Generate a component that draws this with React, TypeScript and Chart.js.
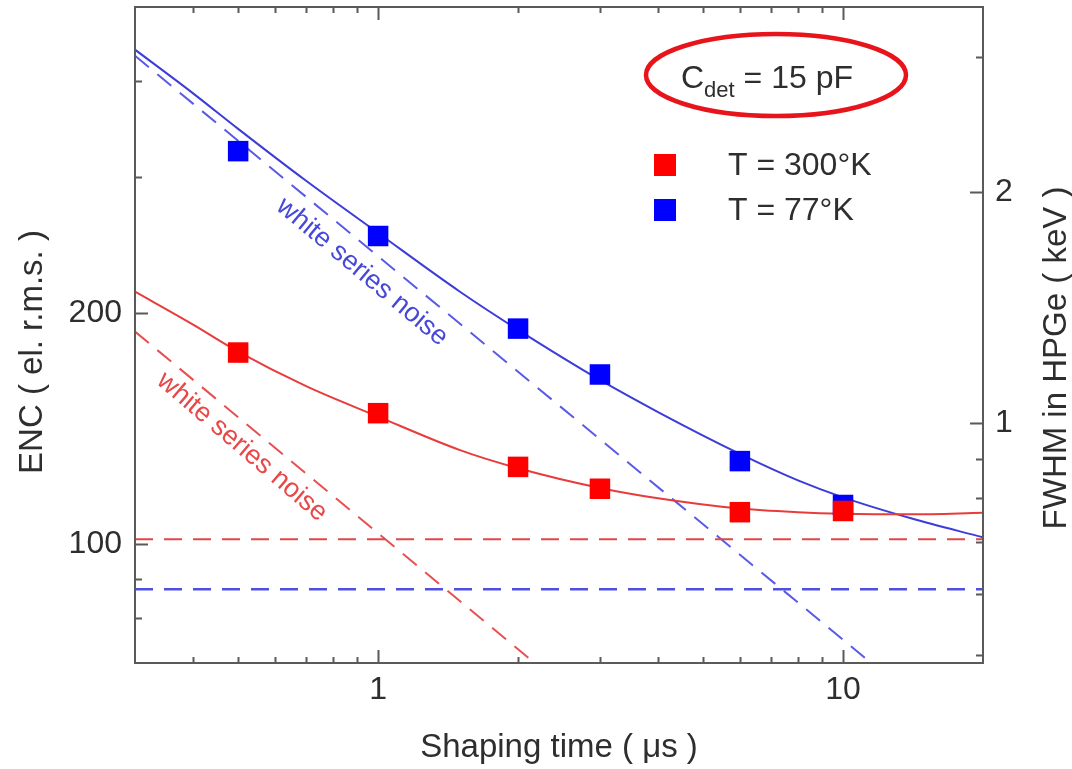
import React, { useEffect, useRef } from 'react';
import { Chart, registerables } from 'chart.js';

Chart.register(...registerables);

// Measured points
const shapingTimes = [0.5, 1, 2, 3, 6, 10];
const enc300K = [177.5, 148, 126, 118, 110, 110.4];
const enc77K = [324.6, 251.7, 190.7, 166.2, 128.2, 112.4];

// Fit curves
const fitTimes = [0.3, 0.4, 0.5, 0.7, 1, 1.5, 2, 3, 4, 6, 8, 10, 14, 20];
const fit300K = [213, 193, 178, 160.5, 146.5, 132.5, 125.5, 118.3, 114.7, 111.2, 110, 109.5, 109.3, 109.8];
const fit77K = [440, 386, 347, 297, 254, 213, 190, 163.5, 148.5, 131, 121, 115, 108, 102];

// Noise components (dashed)
const flat300KTimes = [0.3, 20];
const flat300K = [101.4, 101.4];
const flat77KTimes = [0.3, 20];
const flat77K = [87.3, 87.3];
const white300KTimes = [0.3, 2.17];
const white300K = [189, 70];
const white77KTimes = [0.3, 11.5];
const white77K = [432, 70];

// Axes
const xMin = 0.3;
const xMax = 20;
const yMin = 70;
const yMax = 500;
const encPerKeV = 143.5;
const xLabelTicks = [1, 10];
const xMinorTicks = [0.4, 0.5, 0.6, 0.7, 0.8, 0.9, 2, 3, 4, 5, 6, 7, 8, 9];
const yLabelTicks = [100, 200];
const yMinorTicks = [80, 90, 300, 400];
const y2LabelTicks = [1, 2];
const y2MinorTicks = [0.5, 0.6, 0.7, 0.8, 0.9, 3];

const seriesLabels = ['T = 300°K', 'T = 77°K'];
const RED = '#ff0000';
const BLUE = '#0000ff';
const FONT = '"Liberation Sans", Arial, Helvetica, sans-serif';
const TEXT = '#2e2e2e';
const FRAME = '#5a5a5a';

const pts = (xs: number[], ys: number[]) => xs.map((x, i) => ({ x, y: ys[i] }));

const decorPlugin = {
  id: 'decor',
  afterDraw(chart: any) {
    const { ctx, chartArea: a, scales } = chart;
    const sx = scales.x, sy = scales.y, sy2 = scales.y2;
    ctx.save();
    // frame
    ctx.strokeStyle = FRAME;
    ctx.lineWidth = 2;
    ctx.strokeRect(a.left, a.top, a.right - a.left, a.bottom - a.top);
    // ticks
    const MAJ = 13, MIN = 6;
    ctx.beginPath();
    const xt = (v: number, len: number) => {
      const p = Math.round(sx.getPixelForValue(v)) + 0.5;
      ctx.moveTo(p, a.bottom); ctx.lineTo(p, a.bottom - len);
      ctx.moveTo(p, a.top); ctx.lineTo(p, a.top + len);
    };
    xLabelTicks.forEach((v) => xt(v, MAJ));
    xMinorTicks.forEach((v) => xt(v, MIN));
    const yt = (v: number, len: number) => {
      const p = Math.round(sy.getPixelForValue(v)) + 0.5;
      ctx.moveTo(a.left, p); ctx.lineTo(a.left + len, p);
    };
    yLabelTicks.forEach((v) => yt(v, MAJ));
    yMinorTicks.forEach((v) => yt(v, MIN + 1));
    const y2t = (v: number, len: number) => {
      const p = Math.round(sy2.getPixelForValue(v)) + 0.5;
      ctx.moveTo(a.right, p); ctx.lineTo(a.right - len, p);
    };
    y2LabelTicks.forEach((v) => y2t(v, MAJ));
    y2MinorTicks.forEach((v) => y2t(v, MIN + 1));
    ctx.stroke();

    // axis titles
    ctx.fillStyle = TEXT;
    ctx.font = `33px ${FONT}`;
    ctx.textAlign = 'center';
    ctx.textBaseline = 'alphabetic';
    ctx.fillText('Shaping time ( μs )', (a.left + a.right) / 2, 757);
    ctx.save();
    ctx.translate(42, 352);
    ctx.rotate(-Math.PI / 2);
    ctx.fillText('ENC ( el. r.m.s. )', 0, 0);
    ctx.restore();
    ctx.save();
    ctx.translate(1066, 358);
    ctx.rotate(-Math.PI / 2);
    ctx.fillText('FWHM in HPGe ( keV )', 0, 0);
    ctx.restore();

    // C_det annotation with ellipse
    ctx.textAlign = 'left';
    ctx.font = `32px ${FONT}`;
    ctx.fillText('C', 681, 88);
    const cw = ctx.measureText('C').width;
    ctx.font = `22px ${FONT}`;
    ctx.fillText('det', 681 + cw, 97);
    const dw = ctx.measureText('det').width;
    ctx.font = `32px ${FONT}`;
    ctx.fillText(' = 15 pF', 681 + cw + dw, 88);
    ctx.beginPath();
    ctx.ellipse(776, 75, 130, 41, 0, 0, Math.PI * 2);
    ctx.strokeStyle = '#e8141c';
    ctx.lineWidth = 4.5;
    ctx.stroke();

    // legend
    const legendColors = [RED, BLUE];
    const legendY = [165, 210];
    ctx.font = `32px ${FONT}`;
    ctx.textBaseline = 'middle';
    seriesLabels.forEach((lab, i) => {
      ctx.fillStyle = legendColors[i];
      ctx.fillRect(654, legendY[i] - 11, 22, 22);
      ctx.fillStyle = TEXT;
      ctx.fillText(lab, 728, legendY[i] + 1);
    });

    // white series noise labels
    ctx.font = `27px ${FONT}`;
    ctx.textAlign = 'center';
    ctx.textBaseline = 'middle';
    const lbl = (x: number, y: number, ang: number, col: string) => {
      ctx.save();
      ctx.translate(x, y);
      ctx.rotate((ang * Math.PI) / 180);
      ctx.fillStyle = col;
      ctx.fillText('white series noise', 0, 0);
      ctx.restore();
    };
    lbl(362, 272, 40, '#4848d8');
    lbl(242, 447, 40.5, '#e84848');
    ctx.restore();
  },
};

export default function App() {
  const ref = useRef<HTMLCanvasElement>(null);
  useEffect(() => {
    const canvas = ref.current!;
    const tickFont = { family: FONT, size: 32 };
    const chart = new Chart(canvas, {
      type: 'line',
      data: {
        datasets: [
          {
            label: seriesLabels[0],
            data: pts(shapingTimes, enc300K),
            showLine: false,
            pointStyle: 'rect',
            pointRadius: 14.5,
            pointBackgroundColor: RED,
            pointBorderWidth: 0,
            borderColor: RED,
            backgroundColor: RED,
          },
          {
            label: seriesLabels[1],
            data: pts(shapingTimes, enc77K),
            showLine: false,
            pointStyle: 'rect',
            pointRadius: 14.5,
            pointBackgroundColor: BLUE,
            pointBorderWidth: 0,
            borderColor: BLUE,
            backgroundColor: BLUE,
          },
          {
            label: 'fit 300K',
            data: pts(fitTimes, fit300K),
            borderColor: '#e83c3c',
            borderWidth: 2,
            pointRadius: 0,
            cubicInterpolationMode: 'monotone',
          },
          {
            label: 'fit 77K',
            data: pts(fitTimes, fit77K),
            borderColor: '#3c3cd8',
            borderWidth: 2,
            pointRadius: 0,
            cubicInterpolationMode: 'monotone',
          },
          {
            label: 'flat 300K',
            data: pts(flat300KTimes, flat300K),
            borderColor: '#e04848',
            borderWidth: 2,
            borderDash: [18, 11],
            pointRadius: 0,
          },
          {
            label: 'flat 77K',
            data: pts(flat77KTimes, flat77K),
            borderColor: '#5050e0',
            borderWidth: 2.5,
            borderDash: [18, 11],
            pointRadius: 0,
          },
          {
            label: 'white 300K',
            data: pts(white300KTimes, white300K),
            borderColor: '#e85050',
            borderWidth: 2,
            borderDash: [18, 11],
            pointRadius: 0,
          },
          {
            label: 'white 77K',
            data: pts(white77KTimes, white77K),
            borderColor: '#5a5ae6',
            borderWidth: 2,
            borderDash: [18, 11],
            pointRadius: 0,
          },
        ],
      },
      options: {
        responsive: false,
        animation: false,
        layout: { autoPadding: false, padding: { top: 7, left: 0, right: 0, bottom: 0 } },
        plugins: { legend: { display: false }, tooltip: { enabled: false } },
        scales: {
          x: {
            type: 'logarithmic',
            position: 'bottom',
            min: xMin,
            max: xMax,
            afterBuildTicks: (s: any) => {
              s.ticks = xLabelTicks.map((v) => ({ value: v }));
            },
            afterFit: (s: any) => {
              s.height = 106;
              s.paddingLeft = 0;
              s.paddingRight = 0;
            },
            grid: { display: false, drawTicks: false },
            border: { display: false },
            ticks: {
              font: tickFont,
              color: TEXT,
              padding: 8,
              maxRotation: 0,
              autoSkip: false,
              callback: (v: any) => String(v),
            },
          },
          y: {
            type: 'logarithmic',
            position: 'left',
            min: yMin,
            max: yMax,
            afterBuildTicks: (s: any) => {
              s.ticks = yLabelTicks.map((v) => ({ value: v }));
            },
            afterFit: (s: any) => {
              s.width = 135;
              s.paddingTop = 0;
              s.paddingBottom = 0;
            },
            grid: { display: false, drawTicks: false },
            border: { display: false },
            ticks: {
              font: tickFont,
              color: TEXT,
              padding: 13,
              autoSkip: false,
              callback: (v: any) => String(v),
            },
          },
          y2: {
            type: 'logarithmic',
            position: 'right',
            min: yMin / encPerKeV,
            max: yMax / encPerKeV,
            afterBuildTicks: (s: any) => {
              s.ticks = y2LabelTicks.map((v) => ({ value: v }));
            },
            afterFit: (s: any) => {
              s.width = 89;
              s.paddingTop = 0;
              s.paddingBottom = 0;
            },
            grid: { display: false, drawTicks: false },
            border: { display: false },
            ticks: {
              font: tickFont,
              color: TEXT,
              padding: 12,
              autoSkip: false,
              callback: (v: any) => String(v),
            },
          },
        },
      },
      plugins: [decorPlugin],
    } as any);
    return () => chart.destroy();
  }, []);
  return (
    <div style={{ position: 'fixed', left: 0, top: 0, width: 1072, height: 769, background: '#fff' }}>
      <canvas ref={ref} width={1072} height={769} style={{ width: 1072, height: 769, display: 'block' }} />
    </div>
  );
}
